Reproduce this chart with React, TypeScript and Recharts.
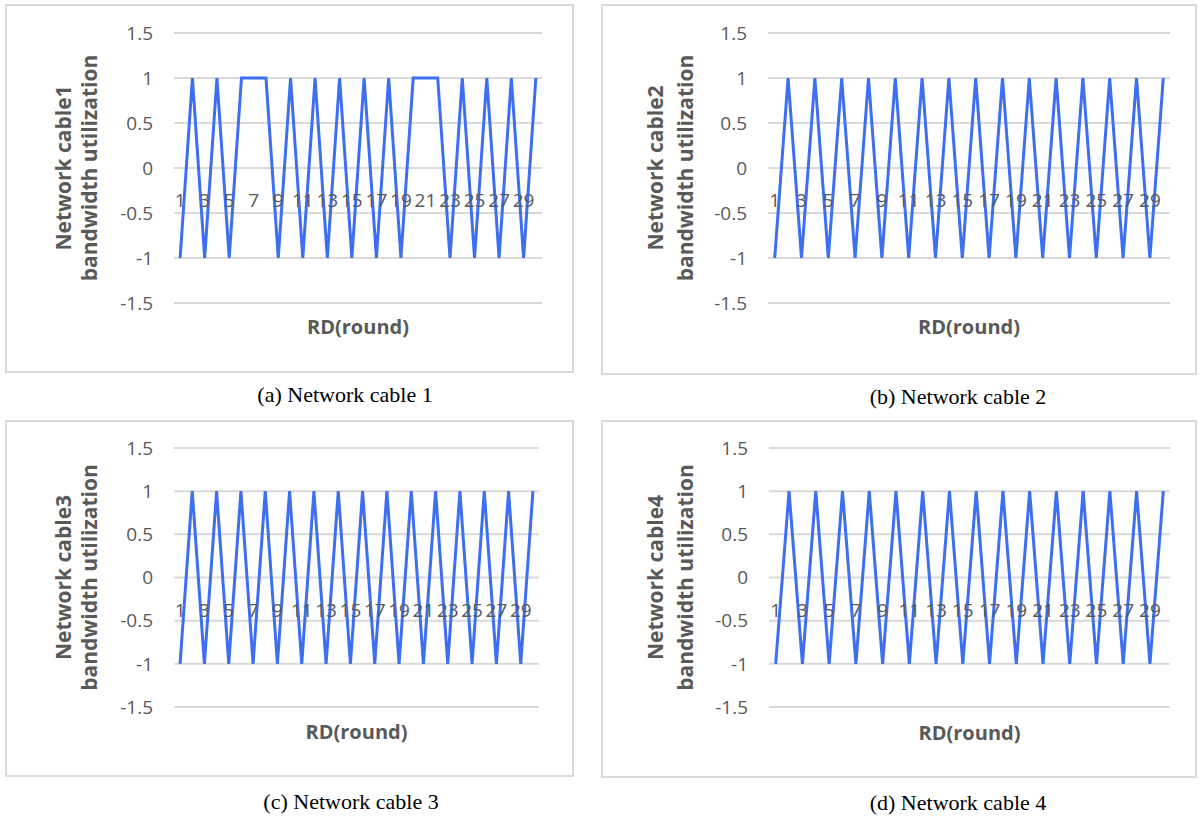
import React from "react";
import { LineChart, Line, XAxis, YAxis, CartesianGrid, Label } from "recharts";

const rounds = ["1", "2", "3", "4", "5", "6", "7", "8", "9", "10", "11", "12", "13", "14", "15", "16", "17", "18", "19", "20", "21", "22", "23", "24", "25", "26", "27", "28", "29", "30"];
const cable1 = [-1, 1, -1, 1, -1, 1, 1, 1, -1, 1, -1, 1, -1, 1, -1, 1, -1, 1, -1, 1, 1, 1, -1, 1, -1, 1, -1, 1, -1, 1];
const cable2 = [-1, 1, -1, 1, -1, 1, -1, 1, -1, 1, -1, 1, -1, 1, -1, 1, -1, 1, -1, 1, -1, 1, -1, 1, -1, 1, -1, 1, -1, 1];
const cable3 = [-1, 1, -1, 1, -1, 1, -1, 1, -1, 1, -1, 1, -1, 1, -1, 1, -1, 1, -1, 1, -1, 1, -1, 1, -1, 1, -1, 1, -1, 1];
const cable4 = [-1, 1, -1, 1, -1, 1, -1, 1, -1, 1, -1, 1, -1, 1, -1, 1, -1, 1, -1, 1, -1, 1, -1, 1, -1, 1, -1, 1, -1, 1];
const yTicks = [-1.5, -1, -0.5, 0, 0.5, 1, 1.5];

const BLUE = "#3d6ff0";
const GRID = "#d9d9d9";
const TEXT = "#595959";
const SANS = "'Open Sans', 'Noto Sans', sans-serif";

type Box = { x: number; y: number; w: number; h: number };
type Plot = { l: number; r: number; t: number; b: number };

function Panel(props: {
  box: Box;
  plot: Plot;
  values: number[];
  name: string;
  titleX: [number, number];
  rdY: number;
  caption: string;
  capX: number;
  capY: number;
}) {
  const { box, plot, values, name, titleX, rdY, caption, capX, capY } = props;
  const data = rounds.map((r, i) => ({ round: r, value: values[i] }));
  const plotW = plot.r - plot.l;
  const zeroY = (plot.t + plot.b) / 2;
  const midX = (plot.l + plot.r) / 2;

  return (
    <>
      <div
        style={{
          position: "absolute",
          left: box.x,
          top: box.y,
          width: box.w,
          height: box.h,
          border: `2px solid ${GRID}`,
          boxSizing: "border-box",
        }}
      />
      <div style={{ position: "absolute", left: box.x, top: box.y }}>
        <LineChart
          width={box.w}
          height={box.h}
          data={data}
          margin={{ top: plot.t, right: box.w - plot.r, bottom: 0, left: 0 }}
        >
          <CartesianGrid stroke={GRID} strokeWidth={2} vertical={false} />
          <XAxis
            dataKey="round"
            height={box.h - plot.b}
            axisLine={false}
            tickLine={false}
            interval={1}
            padding={{ left: plotW / 60, right: plotW / 60 }}
            tick={(p: any) => (
              <text
                x={p.x}
                y={zeroY + 32}
                textAnchor="middle"
                dominantBaseline="central"
                fill={TEXT}
                fontSize={19}
                fontFamily={SANS}
              >
                {p.payload.value}
              </text>
            )}
          >
            <Label
              content={() => (
                <text
                  x={midX}
                  y={rdY}
                  textAnchor="middle"
                  dominantBaseline="central"
                  fill={TEXT}
                  fontSize={20}
                  fontWeight="bold"
                  fontFamily={SANS}
                >
                  RD(round)
                </text>
              )}
            />
          </XAxis>
          <YAxis
            type="number"
            domain={[-1.5, 1.5]}
            ticks={yTicks}
            width={plot.l}
            axisLine={false}
            tickLine={false}
            tickMargin={15}
            tick={{ fill: TEXT, fontSize: 19, fontFamily: SANS }}
          >
            <Label
              content={() => (
                <g fill={TEXT} fontSize={21} fontWeight="bold" fontFamily={SANS}>
                  <text
                    x={titleX[0]}
                    y={zeroY}
                    textAnchor="middle"
                    dominantBaseline="central"
                    transform={`rotate(-90 ${titleX[0]} ${zeroY})`}
                  >
                    {name}
                  </text>
                  <text
                    x={titleX[1]}
                    y={zeroY}
                    textAnchor="middle"
                    dominantBaseline="central"
                    transform={`rotate(-90 ${titleX[1]} ${zeroY})`}
                  >
                    bandwidth utilization
                  </text>
                </g>
              )}
            />
          </YAxis>
          <Line
            type="linear"
            dataKey="value"
            stroke={BLUE}
            strokeWidth={3}
            dot={false}
            isAnimationActive={false}
          />
        </LineChart>
      </div>
      <div
        style={{
          position: "absolute",
          left: capX - 150,
          top: capY - 13,
          width: 300,
          height: 26,
          lineHeight: "26px",
          textAlign: "center",
          fontFamily: "'Liberation Serif', 'Times New Roman', serif",
          fontSize: 22,
          color: "#000",
        }}
      >
        {caption}
      </div>
    </>
  );
}

export default function App() {
  return (
    <div
      style={{
        position: "absolute",
        left: 0,
        top: 0,
        width: 1200,
        height: 818,
        background: "#fff",
        overflow: "hidden",
      }}
    >
      <Panel
        box={{ x: 5, y: 4, w: 569, h: 369 }}
        plot={{ l: 169, r: 537, t: 29, b: 299 }}
        values={cable1}
        name="Network cable1"
        titleX={[58, 84]}
        rdY={322}
        caption="(a) Network cable 1"
        capX={345}
        capY={395}
      />
      <Panel
        box={{ x: 601, y: 4, w: 596, h: 371 }}
        plot={{ l: 167, r: 569, t: 29, b: 299 }}
        values={cable2}
        name="Network cable2"
        titleX={[54, 84]}
        rdY={322}
        caption="(b) Network cable 2"
        capX={958}
        capY={397}
      />
      <Panel
        box={{ x: 5, y: 420, w: 569, h: 357 }}
        plot={{ l: 169, r: 534, t: 28, b: 287 }}
        values={cable3}
        name="Network cable3"
        titleX={[58, 84]}
        rdY={311}
        caption="(c) Network cable 3"
        capX={351}
        capY={802}
      />
      <Panel
        box={{ x: 601, y: 420, w: 596, h: 358 }}
        plot={{ l: 168, r: 569, t: 28, b: 287 }}
        values={cable4}
        name="Network cable4"
        titleX={[54, 84]}
        rdY={312}
        caption="(d) Network cable 4"
        capX={958}
        capY={803}
      />
    </div>
  );
}
